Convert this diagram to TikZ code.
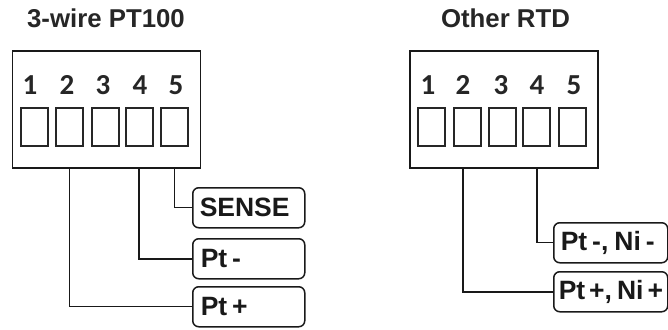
\documentclass[tikz,border=0pt]{standalone}
\usepackage{fontspec}
\setmainfont{Liberation Sans}
\newfontfamily\digitfont{Carlito}
\begin{document}
\begin{tikzpicture}[x=1pt,y=-1pt,
  title/.style={font=\bfseries\fontsize{25.8}{30}\selectfont,text=black!85,inner sep=0pt,anchor=center},
  housing/.style={draw=black!90,line width=1.8pt,minimum width=188pt,minimum height=117pt,inner sep=0pt,anchor=north west},
  pocket/.style={draw=black!85,line width=1.7pt,minimum width=27pt,minimum height=38pt,inner sep=0pt,anchor=north west},
  digit/.style={font=\digitfont\bfseries\fontsize{29}{30}\selectfont,text=black!85,inner sep=0pt,anchor=center},
  tag/.style={draw=black!90,line width=1.5pt,rounded corners=6pt,minimum height=40pt,inner sep=0pt,anchor=north west,
     text width=#1,font=\bfseries\fontsize{26.5}{28}\selectfont,text=black!90,align=left},
  wire/.style={draw=black!90,line width=1.4pt},
  wire2/.style={draw=black!90,line width=1.8pt}]
\useasboundingbox (0,0) rectangle (668,329);
% Left
\node[title] (tL) at (106,18) {3-wire PT100};
\node[housing] (L) at (11.5,50) {};
\foreach \n/\x/\dx in {1/20/30,2/55/67,3/91/103,4/125/140,5/160/176}{
  \node[pocket] (Lp\n) at (\x,107) {};
  \node[digit] (Ld\n) at (\dx,85) {\n};
}
\node[tag=112pt] (sense) at (192,187) {\hspace{7pt}SENSE};
\node[tag=112pt] (ptm) at (192,238) {\hspace{8pt}Pt\hspace{5pt}-};
\node[tag=112pt] (ptp) at (192,286) {\hspace{8pt}Pt\hspace{5pt}+};
\draw[wire] (Lp5.center |- L.south) |- (sense.west);
\draw[wire2] (Lp4.center |- L.south) |- (ptm.west);
\draw[wire] (Lp2.center |- L.south) |- (ptp.west);
% Right
\node[title] (tR) at (505.5,18) {Other RTD};
\node[housing] (R) at (409,50) {};
\foreach \n/\x/\dx in {1/417/428,2/453/463,3/488/501,4/522/537,5/558/574}{
  \node[pocket] (Rp\n) at (\x,107) {};
  \node[digit] (Rd\n) at (\dx,85) {\n};
}
\node[tag=114pt] (nim) at (553,222) {\hspace{7pt}Pt\hspace{5pt}-,\hspace{6pt}Ni\hspace{5pt}-};
\node[tag=114pt] (nip) at (553,271) {\hspace{5pt}Pt\hspace{4pt}+,\hspace{5pt}Ni\hspace{4pt}+};
\draw[wire] (Rd4.center |- R.south) |- (nim.west);
\draw[wire2] (Rd2.center |- R.south) |- (nip.west);
\end{tikzpicture}
\end{document}
